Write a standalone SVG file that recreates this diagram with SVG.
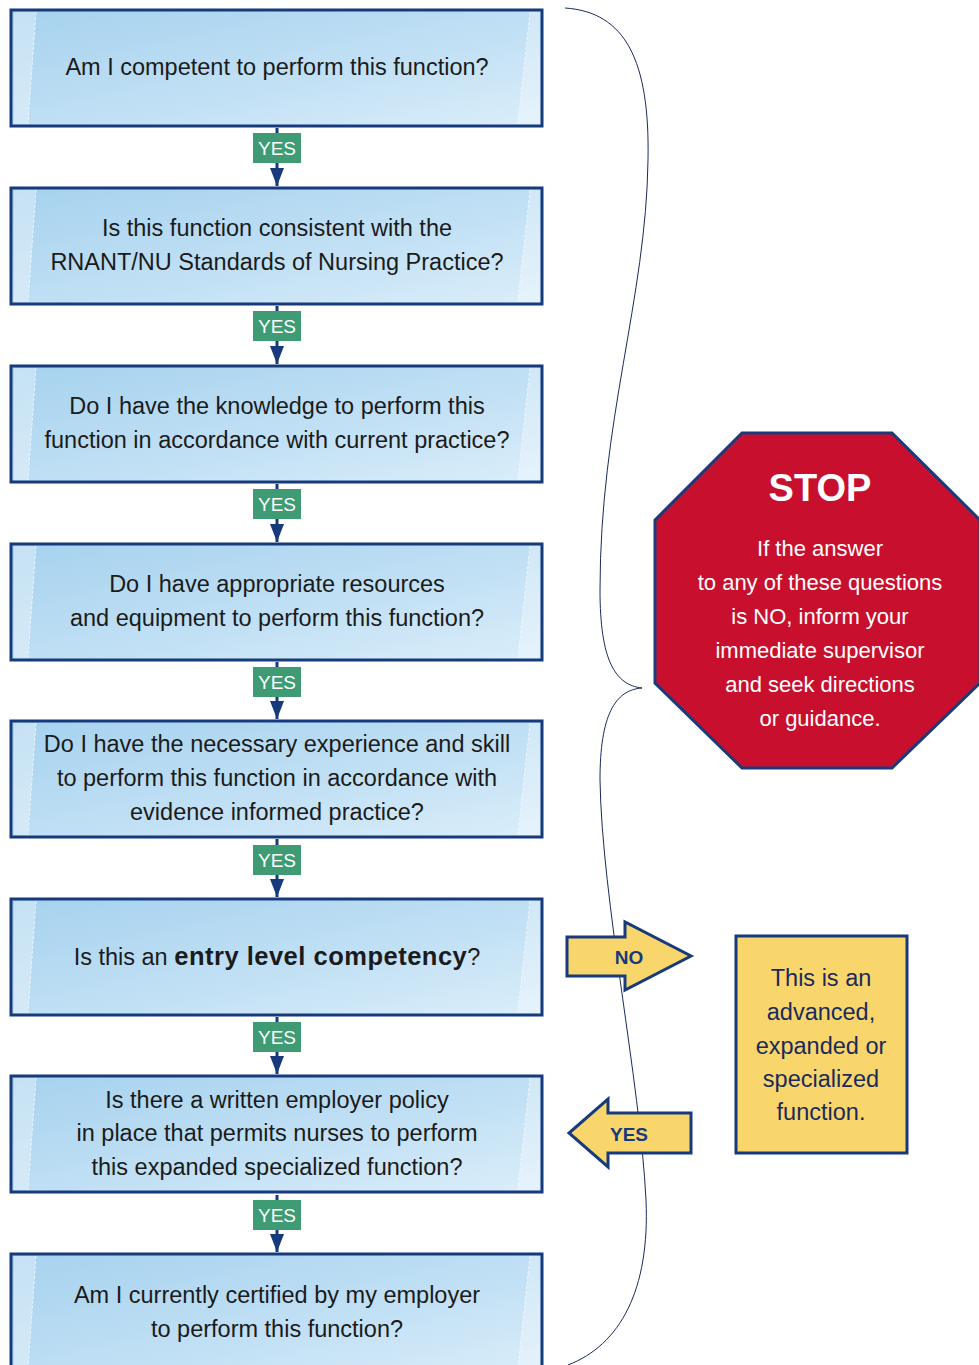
<svg xmlns="http://www.w3.org/2000/svg" width="979" height="1365" viewBox="0 0 979 1365">
<defs>
<linearGradient id="boxg" x1="0" y1="0" x2="1" y2="1">
<stop offset="0" stop-color="#a6d2ee"/>
<stop offset="0.6" stop-color="#c3e1f5"/>
<stop offset="1" stop-color="#dbeefa"/>
</linearGradient>
<marker id="arr" viewBox="0 0 18 14" refX="18" refY="7" markerWidth="18" markerHeight="14" markerUnits="userSpaceOnUse" orient="auto">
<path d="M0,0 L18,7 L0,14 Z" fill="#163a7c"/>
</marker>
<g id="shade">
<polygon points="14,12 36,12 28,124 14,124" fill="#ffffff" opacity="0.35"/>
<line x1="36" y1="12" x2="28" y2="124" stroke="#ffffff" stroke-width="1" stroke-dasharray="3,2" opacity="0.7"/>
<polygon points="530,12 540,12 540,124 518,124" fill="#ffffff" opacity="0.3"/>
<line x1="530" y1="12" x2="518" y2="124" stroke="#ffffff" stroke-width="1" stroke-dasharray="3,2" opacity="0.7"/>
</g>
</defs>
<style>
.box{fill:url(#boxg);stroke:#163a7c;stroke-width:3}
.q{font-family:"Liberation Sans",Arial,sans-serif;font-size:23.5px;fill:#1b1b1b;text-anchor:middle}
.conn{stroke:#163a7c;stroke-width:3;fill:none}
.yesr{fill:#3e9b73}
.yest{font-family:"Liberation Sans",Arial,sans-serif;font-size:19px;fill:#ffffff;text-anchor:middle}
.stopt{font-family:"Liberation Sans",Arial,sans-serif;font-size:22px;fill:#ffffff;text-anchor:middle}
.yel{fill:#f8d66c;stroke:#163a7c;stroke-width:3}
.yt{font-family:"Liberation Sans",Arial,sans-serif;font-size:23.5px;fill:#1b2a5c;text-anchor:middle}
.at{font-family:"Liberation Sans",Arial,sans-serif;font-size:19px;font-weight:bold;fill:#163a7c;text-anchor:middle}
</style>
<rect width="979" height="1365" fill="#ffffff"/>

<g id="brace">
<path d="M565,8 C625,12 650,60 648,160 C646,300 600,420 600,590 C600,660 615,685 642,688 C615,690 600,715 600,780 C602,900 640,1080 646,1200 C650,1290 620,1345 568,1365" fill="none" stroke="#1b2a5c" stroke-width="1"/>
</g>

<g id="connectors">
<line class="conn" x1="277" y1="128" x2="277" y2="186" marker-end="url(#arr)"/>
<line class="conn" x1="277" y1="306" x2="277" y2="364" marker-end="url(#arr)"/>
<line class="conn" x1="277" y1="484" x2="277" y2="542" marker-end="url(#arr)"/>
<line class="conn" x1="277" y1="662" x2="277" y2="719" marker-end="url(#arr)"/>
<line class="conn" x1="277" y1="839" x2="277" y2="897" marker-end="url(#arr)"/>
<line class="conn" x1="277" y1="1017" x2="277" y2="1074" marker-end="url(#arr)"/>
<line class="conn" x1="277" y1="1195" x2="277" y2="1252" marker-end="url(#arr)"/>
<g id="yes1"><rect class="yesr" x="253" y="133" width="48" height="30"/><text class="yest" x="277" y="155">YES</text></g>
<g id="yes2"><rect class="yesr" x="253" y="311" width="48" height="30"/><text class="yest" x="277" y="333">YES</text></g>
<g id="yes3"><rect class="yesr" x="253" y="489" width="48" height="30"/><text class="yest" x="277" y="511">YES</text></g>
<g id="yes4"><rect class="yesr" x="253" y="667" width="48" height="30"/><text class="yest" x="277" y="689">YES</text></g>
<g id="yes5"><rect class="yesr" x="253" y="845" width="48" height="30"/><text class="yest" x="277" y="867">YES</text></g>
<g id="yes6"><rect class="yesr" x="253" y="1022" width="48" height="30"/><text class="yest" x="277" y="1044">YES</text></g>
<g id="yes7"><rect class="yesr" x="253" y="1200" width="48" height="30"/><text class="yest" x="277" y="1222">YES</text></g>
</g>

<g id="q1">
<rect class="box" x="11" y="10" width="531" height="116"/>
<use href="#shade"/>
<text class="q" x="277" y="75">Am I competent to perform this function?</text>
</g>
<g id="q2">
<rect class="box" x="11" y="188" width="531" height="116"/>
<use href="#shade" y="178"/>
<text class="q" x="277" y="236">Is this function consistent with the</text>
<text class="q" x="277" y="270">RNANT/NU Standards of Nursing Practice?</text>
</g>
<g id="q3">
<rect class="box" x="11" y="366" width="531" height="116"/>
<use href="#shade" y="356"/>
<text class="q" x="277" y="414">Do I have the knowledge to perform this</text>
<text class="q" x="277" y="448">function in accordance with current practice?</text>
</g>
<g id="q4">
<rect class="box" x="11" y="544" width="531" height="116"/>
<use href="#shade" y="534"/>
<text class="q" x="277" y="592">Do I have appropriate resources</text>
<text class="q" x="277" y="626">and equipment to perform this function?</text>
</g>
<g id="q5">
<rect class="box" x="11" y="721" width="531" height="116"/>
<use href="#shade" y="711"/>
<text class="q" x="277" y="752">Do I have the necessary experience and skill</text>
<text class="q" x="277" y="786">to perform this function in accordance with</text>
<text class="q" x="277" y="820">evidence informed practice?</text>
</g>
<g id="q6">
<rect class="box" x="11" y="899" width="531" height="116"/>
<use href="#shade" y="889"/>
<text class="q" x="277" y="965">Is this an <tspan font-weight="bold" font-size="25.5" letter-spacing="0.5">entry level competency</tspan>?</text>
</g>
<g id="q7">
<rect class="box" x="11" y="1076" width="531" height="116"/>
<use href="#shade" y="1066"/>
<text class="q" x="277" y="1108">Is there a written employer policy</text>
<text class="q" x="277" y="1141">in place that permits nurses to perform</text>
<text class="q" x="277" y="1175">this expanded specialized function?</text>
</g>
<g id="q8">
<rect class="box" x="11" y="1254" width="531" height="125"/>
<use href="#shade" y="1244"/>
<text class="q" x="277" y="1303">Am I currently certified by my employer</text>
<text class="q" x="277" y="1337">to perform this function?</text>
</g>

<g id="stop">
<polygon points="742,433 892,433 980,520 980,683 892,768 742,768 655,683 655,520" fill="#c8102e" stroke="#1b3a7a" stroke-width="3"/>
<text x="820" y="501" font-family="'Liberation Sans',Arial,sans-serif" font-size="38" font-weight="bold" fill="#ffffff" text-anchor="middle">STOP</text>
<text class="stopt" x="820" y="556">If the answer</text>
<text class="stopt" x="820" y="590">to any of these questions</text>
<text class="stopt" x="820" y="624">is NO, inform your</text>
<text class="stopt" x="820" y="658">immediate supervisor</text>
<text class="stopt" x="820" y="692">and seek directions</text>
<text class="stopt" x="820" y="726">or guidance.</text>
</g>

<g id="no-arrow">
<polygon class="yel" points="567,937 625,937 625,922 691,956 625,990 625,976 567,976"/>
<text class="at" x="629" y="964">NO</text>
</g>
<g id="yes-arrow">
<polygon class="yel" points="691,1113 608,1113 608,1099 569,1133 608,1167 608,1153 691,1153"/>
<text class="at" x="629" y="1141">YES</text>
</g>

<g id="advanced">
<rect class="yel" x="736" y="936" width="171" height="217"/>
<text class="yt" x="821" y="986">This is an</text>
<text class="yt" x="821" y="1020">advanced,</text>
<text class="yt" x="821" y="1054">expanded or</text>
<text class="yt" x="821" y="1087">specialized</text>
<text class="yt" x="821" y="1120">function.</text>
</g>
</svg>
